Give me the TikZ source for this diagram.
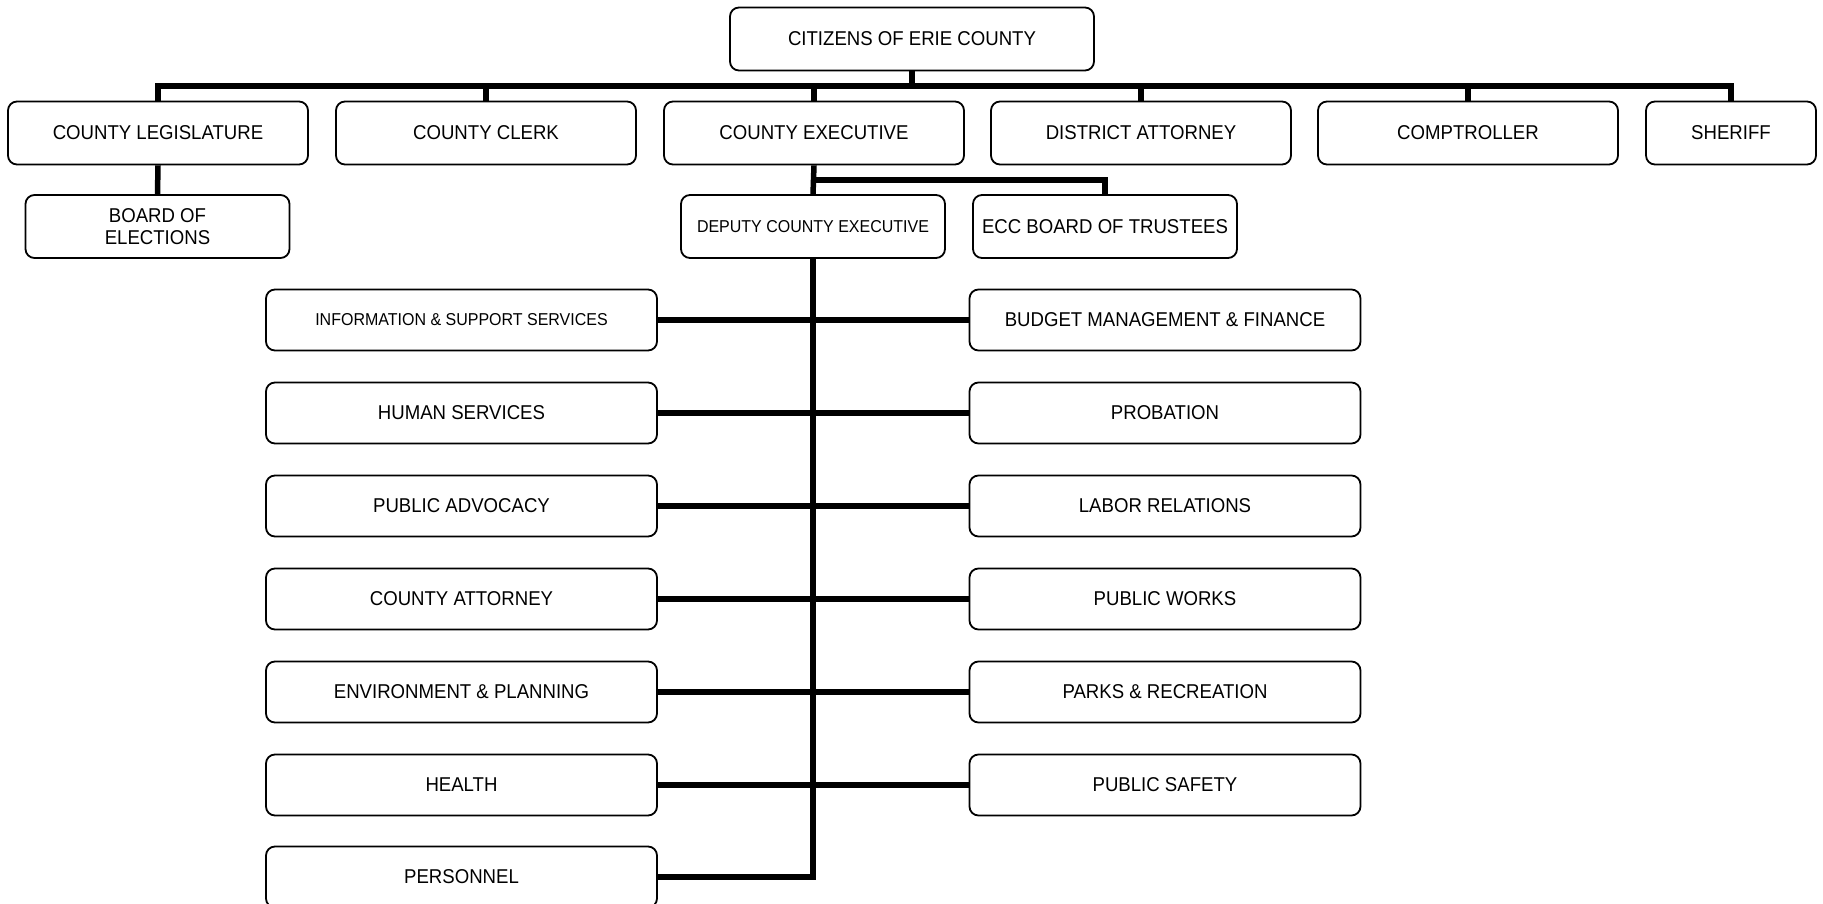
\documentclass[tikz,border=0pt]{standalone}
\usepackage{fontspec}
\setmainfont[FakeStretch=0.93]{Liberation Sans}
\begin{document}
\begin{tikzpicture}[x=1pt,y=-1pt,
  box/.style={draw, line width=1.8pt, rounded corners=9pt, fill=white,
    inner sep=0pt, align=center, minimum height=63pt,
    font=\fontsize{20}{22}\selectfont},
  topbox/.style={box, minimum width=300pt},
  subbox/.style={box, minimum width=264pt},
  deptbox/.style={box, minimum width=391pt, minimum height=61pt},
  smalltext/.style={font=\fontsize{17.2}{20}\selectfont},
  conn/.style={line width=5.5pt}]
\useasboundingbox (0,0) rectangle (1823,904);

\node[box, minimum width=364pt, minimum height=63pt] (cit) at (912,39) {CITIZENS OF ERIE COUNTY};

\node[topbox] (leg) at (158,133) {COUNTY LEGISLATURE};
\node[topbox] (clerk) at (486,133) {COUNTY CLERK};
\node[topbox] (exec) at (814,133) {COUNTY EXECUTIVE};
\node[topbox] (da) at (1141,133) {DISTRICT ATTORNEY};
\node[topbox] (comp) at (1468,133) {COMPTROLLER};
\node[box, minimum width=170pt] (sher) at (1731,133) {SHERIFF};

\node[subbox] (boe) at (157.5,226.5) {BOARD OF\\ELECTIONS};
\node[subbox, smalltext] (dep) at (813,226.5) {DEPUTY COUNTY EXECUTIVE};
\node[subbox] (ecc) at (1105,226.5) {ECC BOARD OF TRUSTEES};

\node[deptbox, smalltext] (l1) at (461.5,320) {INFORMATION \& SUPPORT SERVICES};
\node[deptbox] (l2) at (461.5,413) {HUMAN SERVICES};
\node[deptbox] (l3) at (461.5,506) {PUBLIC ADVOCACY};
\node[deptbox] (l4) at (461.5,599) {COUNTY ATTORNEY};
\node[deptbox] (l5) at (461.5,692) {ENVIRONMENT \& PLANNING};
\node[deptbox] (l6) at (461.5,785) {HEALTH};
\node[deptbox] (pers) at (461.5,877) {PERSONNEL};

\node[deptbox] (r1) at (1165,320) {BUDGET MANAGEMENT \& FINANCE};
\node[deptbox] (r2) at (1165,413) {PROBATION};
\node[deptbox] (r3) at (1165,506) {LABOR RELATIONS};
\node[deptbox] (r4) at (1165,599) {PUBLIC WORKS};
\node[deptbox] (r5) at (1165,692) {PARKS \& RECREATION};
\node[deptbox] (r6) at (1165,785) {PUBLIC SAFETY};

% top bus
\draw[conn] (leg.north) -- (leg.north |- 0,86) -| (sher.north);
\draw[conn] (cit.south) -- (cit.south |- 0,86);
\foreach \n in {clerk,exec,da,comp}
  \draw[conn] (\n.north) -- (\n.north |- 0,86);

% legislature to board of elections
\draw[conn] (leg.south) -- (boe.north);

% executive branch
\draw[conn] (exec.south) -- (dep.north);
\draw[conn] (exec.south |- 0,180) -| (ecc.north);

% main spine
\draw[conn] (dep.south) |- (pers.east);
\foreach \i in {1,...,6}
  \draw[conn] (l\i.east) -- (r\i.west);
\end{tikzpicture}
\end{document}
